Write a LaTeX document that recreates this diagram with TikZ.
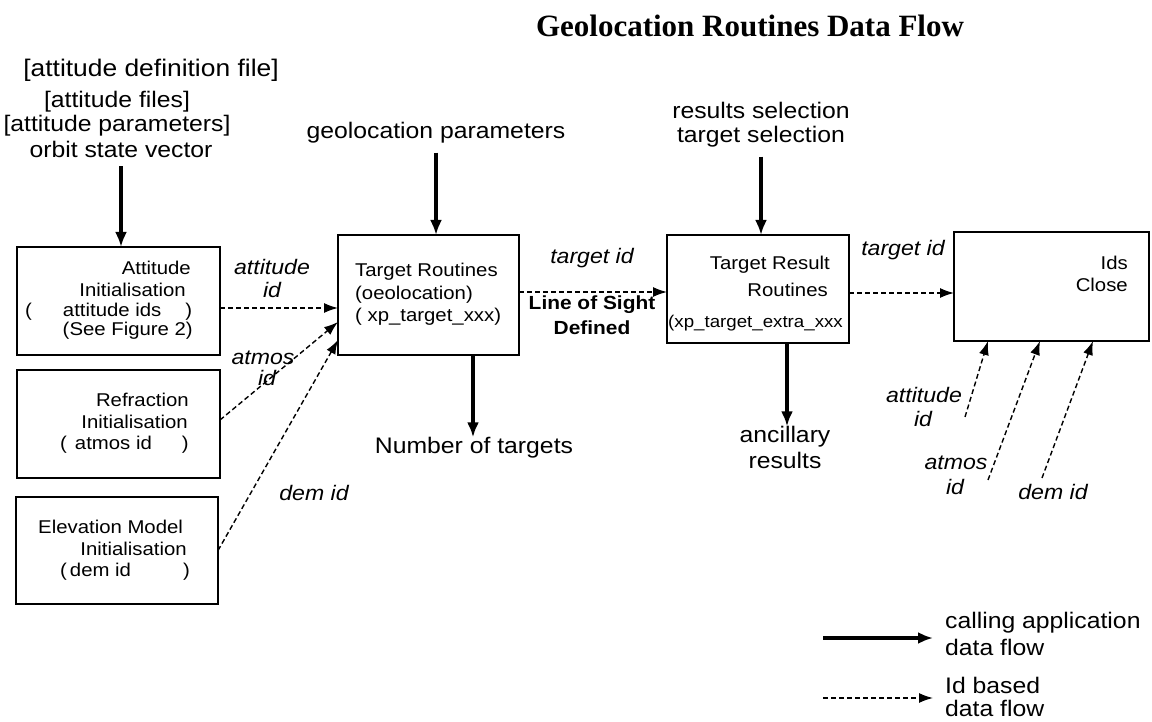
\documentclass[tikz,border=0pt]{standalone}
\usepackage{fontspec}
\setmainfont[FakeStretch=1.1]{Liberation Sans}
\newfontfamily\titlefont{Liberation Serif}
\usetikzlibrary{arrows.meta}
\tikzset{
  box/.style={draw, line width=1.8pt, inner sep=0pt, outer sep=0pt},
  flow/.style={line width=3.2pt, -{Latex[length=15pt,width=12pt]}},
  idflow/.style={line width=1.4pt, dash pattern=on 5pt off 3pt, -{Latex[length=14pt,width=10pt]}},
  ot/.style={inner sep=0pt, font=\fontsize{22.5}{24}\selectfont},
  bt/.style={inner sep=0pt, font=\fontsize{18.5}{20}\selectfont},
  st/.style={inner sep=0pt, font=\fontsize{17}{18}\selectfont},
  it/.style={inner sep=0pt, font=\fontsize{21}{22}\selectfont\itshape},
  bold/.style={inner sep=0pt, font=\fontsize{19}{20}\selectfont\bfseries},
}
\begin{document}
\begin{tikzpicture}[x=1pt,y=-1pt]
\useasboundingbox[fill=white] (0,0) rectangle (1152,722);

% title
\node[inner sep=0pt, font=\titlefont\fontsize{31}{33}\selectfont\bfseries] (title) at (750,26) {Geolocation Routines Data Flow};

% top-left inputs
\node[inner sep=0pt, font=\fontsize{24}{26}\selectfont] (t1) at (151,70) {[attitude definition file]};
\node[ot] (t2) at (117,102) {[attitude files]};
\node[ot] (t3) at (117,126) {[attitude parameters]};
\node[ot] (t4) at (121,149) {orbit state vector};

\node[ot] (gp) at (436,133) {geolocation parameters};
\node[ot] (rs) at (761,110) {results selection};
\node[ot] (ts) at (761,137) {target selection};

% boxes
\node[box, minimum width=203, minimum height=108] (att) at (118.5,301) {};
\node[box, minimum width=203, minimum height=108] (ref) at (118.5,424) {};
\node[box, minimum width=202, minimum height=107] (elev) at (117,550.5) {};
\node[box, minimum width=181, minimum height=120] (targ) at (428.5,295) {};
\node[box, minimum width=182, minimum height=108] (res) at (758,289) {};
\node[box, minimum width=195, minimum height=109] (ids) at (1051.5,286.5) {};

% box texts
\node[bt, anchor=east] (att1) at (191,268) {Attitude};
\node[bt, anchor=east] (att2) at (186,290) {Initialisation};
\node[bt, anchor=west] (att3) at (25,312) {(\hspace{31pt}attitude ids\hspace{24pt})};
\node[bt, anchor=east] (att4) at (193,331) {(See Figure 2)};

\node[bt, anchor=east] (ref1) at (189,400) {Refraction};
\node[bt, anchor=east] (ref2) at (188,422) {Initialisation};
\node[bt, anchor=west] (ref3) at (60,445) {(\hspace{8pt}atmos id\hspace{30pt})};

\node[bt, anchor=west] (elev1) at (38,527) {Elevation Model};
\node[bt, anchor=east] (elev2) at (187,549) {Initialisation};
\node[bt, anchor=west] (elev3) at (60,572) {(\hspace{3pt}dem id\hspace{52pt})};

\node[bt, anchor=west] (targ1) at (355,272) {Target Routines};
\node[bt, anchor=west] (targ2) at (355,295) {(oeolocation)};
\node[bt, anchor=west] (targ3) at (355,317) {( xp\_target\_xxx)};

\node[bt, anchor=east] (res1) at (830,265) {Target Result};
\node[bt, anchor=east] (res2) at (828,290) {Routines};
\node[st, anchor=west] (res3) at (668,323) {(xp\_target\_extra\_xxx};

\node[bt, anchor=east] (ids1) at (1128,263) {Ids};
\node[bt, anchor=east] (ids2) at (1128,285) {Close};

% outputs
\node[ot] (nt) at (474,448) {Number of targets};
\node[ot] (anc1) at (785,437) {ancillary};
\node[ot] (anc2) at (785,460) {results};

% labels
\node[it] (la1) at (272,267) {attitude};
\node[it] (la2) at (272,290) {id};
\node[it] (lb1) at (263,358) {atmos};
\node[it] (lb2) at (267,378) {id};
\node[it] (lc) at (314,493) {dem id};
\node[it] (ld) at (592,258) {target id};
\node[bold] (los1) at (592,305) {Line of Sight};
\node[bold] (los2) at (592,328) {Defined};
\node[it] (le) at (903,250) {target id};
\node[it] (lf1) at (924,395) {attitude};
\node[it] (lf2) at (923,419) {id};
\node[it] (lg1) at (956,463) {atmos};
\node[it] (lg2) at (955,487) {id};
\node[it] (lh) at (1053,492) {dem id};

% solid flows
\draw[flow] ([yshift=-9pt]t4.south) -- (t4.south |- att.north);
\draw[flow] ([yshift=-9pt]gp.south) -- (gp.south |- targ.north);
\draw[flow] ([yshift=-9pt]ts.south) -- (ts.south |- res.north);
\draw[flow] ([xshift=44.5pt]targ.south) -- ([xshift=44.5pt]targ.south |- nt.north);
\draw[flow] ([xshift=29pt]res.south) -- ([xshift=29pt]res.south |- anc1.north);

% id flows
\draw[idflow] ([yshift=-61pt]att.north east) -- ([yshift=-73pt]targ.north west);
\draw[idflow] ([yshift=-50pt]ref.north east) -- ([yshift=-87pt]targ.north west);
\draw[idflow] (elev.east) -- ([yshift=-105pt]targ.north west);
\draw[idflow] ([yshift=-57pt]targ.north east) -- ([yshift=-57pt]res.north west);
\draw[idflow] ([yshift=-58pt]res.north east) -- ([yshift=-61pt]ids.north west);

\coordinate (u1) at (965,417);
\coordinate (u2) at (988,480);
\coordinate (u3) at (1042,478);
\draw[idflow] (u1) -- ([xshift=34pt]ids.south west);
\draw[idflow] (u2) -- ([xshift=86pt]ids.south west);
\draw[idflow] (u3) -- ([xshift=139pt]ids.south west);

% legend
\coordinate (l1a) at (823,638);
\coordinate (l1b) at (933,638);
\coordinate (l2a) at (823,698);
\coordinate (l2b) at (933,698);
\draw[flow] (l1a) -- (l1b);
\draw[idflow] (l2a) -- (l2b);
\node[ot, anchor=west] (lg1t) at (945,623) {calling application};
\node[ot, anchor=west] (lg1u) at (945,647) {data flow};
\node[ot, anchor=west] (lg2t) at (945,685) {Id based};
\node[ot, anchor=west] (lg2u) at (945,708) {data flow};
\end{tikzpicture}
\end{document}
